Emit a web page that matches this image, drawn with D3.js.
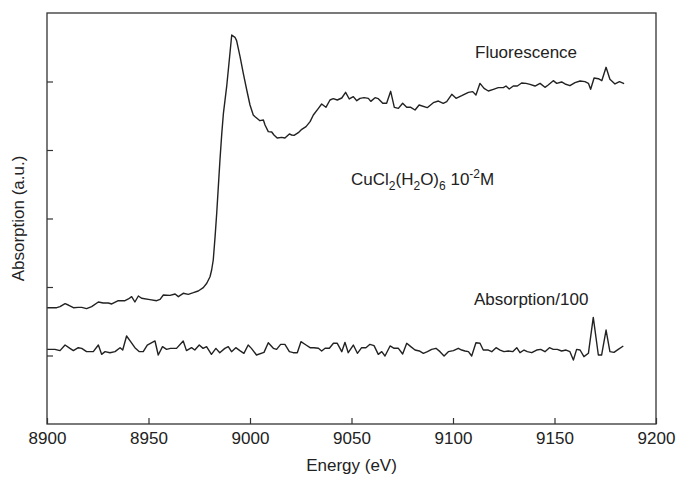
<!DOCTYPE html>
<html>
<head>
<meta charset="utf-8">
<script src="https://cdn.jsdelivr.net/npm/d3@7"></script>
<style>
  body { margin: 0; background: #fff; }
  text { font-family: "Liberation Sans", Arial, sans-serif; fill: #222; }
</style>
</head>
<body>
<div id="chart"></div>
<script>
// values (energy in eV, absorption in a.u.)

var fluorEnergy = [8900.1, 8904.8, 8906.4, 8908.9, 8910.5, 8913.0, 8915.4, 8917.1, 8919.5, 8922.0,
  8925.3, 8927.7, 8930.2, 8931.9, 8935.1, 8938.4, 8940.1, 8941.7, 8943.3, 8945.0,
  8946.6, 8950.7, 8954.0, 8955.7, 8957.3, 8960.6, 8963.1, 8964.7, 8967.1, 8969.6,
  8972.1, 8974.5, 8977.0, 8978.7, 8980.3, 8981.1, 8981.9, 8982.8, 8983.6, 8984.4,
  8985.2, 8986.1, 8986.9, 8988.5, 8989.8, 8991.0, 8992.6, 8993.4, 8995.1, 8996.7,
  8998.4, 9000.0, 9001.6, 9002.5, 9004.9, 9006.6, 9007.4, 9009.0, 9010.7, 9011.8,
  9013.4, 9015.6, 9017.2, 9019.4, 9020.5, 9021.7, 9023.8, 9025.5, 9027.6, 9029.6,
  9031.2, 9033.7, 9035.3, 9037.4, 9039.4, 9041.0, 9043.0, 9045.2, 9047.1, 9048.9,
  9050.9, 9052.6, 9054.2, 9056.2, 9058.3, 9059.5, 9061.6, 9063.2, 9065.4, 9067.3,
  9069.3, 9071.1, 9073.1, 9075.2, 9077.2, 9079.2, 9081.3, 9083.3, 9087.3, 9090.3,
  9092.8, 9095.2, 9096.9, 9099.4, 9101.5, 9104.3, 9107.6, 9109.7, 9111.3, 9113.3,
  9115.3, 9117.4, 9119.9, 9122.3, 9124.8, 9126.1, 9127.7, 9129.7, 9131.7, 9133.8,
  9136.0, 9137.9, 9140.4, 9142.9, 9145.3, 9146.9, 9149.4, 9151.1, 9153.5, 9155.2,
  9157.6, 9160.1, 9162.6, 9165.0, 9166.7, 9167.8, 9169.5, 9171.6, 9173.3, 9175.4,
  9177.3, 9179.8, 9182.0, 9184.3];

var fluorValue = [1.698, 1.698, 1.713, 1.757, 1.737, 1.698, 1.703, 1.703, 1.684, 1.713,
  1.781, 1.766, 1.766, 1.752, 1.800, 1.800, 1.825, 1.859, 1.781, 1.869,
  1.835, 1.815, 1.800, 1.820, 1.883, 1.878, 1.898, 1.859, 1.908, 1.893,
  1.917, 1.942, 1.990, 2.054, 2.150, 2.248, 2.394, 2.735, 3.076, 3.465,
  3.854, 4.243, 4.535, 4.924, 5.314, 5.679, 5.645, 5.596, 5.362, 5.119,
  4.876, 4.657, 4.511, 4.486, 4.428, 4.438, 4.365, 4.268, 4.263, 4.219,
  4.175, 4.185, 4.175, 4.234, 4.219, 4.214, 4.253, 4.302, 4.341, 4.414,
  4.511, 4.608, 4.672, 4.623, 4.730, 4.749, 4.730, 4.759, 4.842, 4.745,
  4.779, 4.720, 4.754, 4.764, 4.754, 4.710, 4.764, 4.749, 4.682, 4.682,
  4.857, 4.623, 4.608, 4.682, 4.623, 4.623, 4.584, 4.657, 4.618, 4.691,
  4.715, 4.682, 4.706, 4.813, 4.754, 4.793, 4.842, 4.852, 4.803, 4.973,
  4.900, 4.861, 4.886, 4.910, 4.910, 4.934, 4.891, 4.934, 4.934, 4.978,
  4.973, 4.959, 4.934, 4.973, 4.915, 4.949, 5.012, 4.973, 4.993, 4.964,
  4.939, 4.983, 5.007, 4.998, 4.973, 4.886, 5.051, 5.041, 5.012, 5.207,
  5.032, 4.964, 4.998, 4.969];

var absEnergy = [8900.1, 8903.9, 8906.4, 8908.9, 8911.3, 8913.0, 8915.4, 8917.1, 8919.5, 8922.8,
  8925.3, 8926.9, 8928.6, 8931.0, 8933.5, 8936.0, 8937.3, 8939.2, 8941.2, 8943.3,
  8945.5, 8947.4, 8949.4, 8953.2, 8954.8, 8956.9, 8958.9, 8960.8, 8963.8, 8967.1,
  8968.7, 8971.2, 8972.8, 8975.0, 8976.9, 8978.6, 8981.0, 8983.2, 8985.1, 8987.6,
  8989.3, 8990.9, 8993.0, 8995.0, 8997.0, 8999.1, 9000.7, 9003.2, 9006.9, 9009.0,
  9011.5, 9013.1, 9015.1, 9017.2, 9019.4, 9021.3, 9023.3, 9025.1, 9027.6, 9029.6,
  9031.5, 9033.7, 9035.3, 9037.0, 9039.1, 9041.1, 9043.0, 9045.2, 9046.8, 9048.4,
  9050.9, 9052.9, 9055.0, 9057.1, 9059.1, 9061.1, 9063.2, 9064.9, 9066.5, 9069.0,
  9071.0, 9073.1, 9075.2, 9077.2, 9079.2, 9081.3, 9083.4, 9085.4, 9087.4, 9089.5,
  9091.6, 9093.6, 9095.6, 9097.7, 9100.2, 9102.6, 9104.3, 9105.9, 9107.6, 9109.2,
  9111.3, 9113.3, 9114.9, 9117.4, 9119.1, 9121.2, 9123.2, 9125.1, 9127.3, 9129.4,
  9131.4, 9133.0, 9135.0, 9136.6, 9138.8, 9141.2, 9143.2, 9145.3, 9147.5, 9149.4,
  9151.4, 9153.5, 9155.7, 9157.6, 9159.3, 9160.9, 9162.6, 9164.5, 9166.7, 9169.1,
  9171.6, 9173.2, 9175.4, 9177.3, 9179.3, 9181.4, 9183.9];

var absValue = [1.090, 1.090, 1.071, 1.153, 1.104, 1.071, 1.114, 1.104, 1.056, 1.056,
  1.153, 1.017, 1.056, 1.041, 1.056, 1.114, 1.080, 1.285, 1.202, 1.114,
  1.056, 1.056, 1.153, 1.212, 1.007, 1.129, 1.090, 1.104, 1.104, 1.212,
  1.071, 1.114, 1.080, 1.153, 1.104, 1.129, 1.017, 1.104, 1.041, 1.104,
  1.129, 1.056, 1.114, 1.071, 1.032, 1.153, 1.104, 1.007, 1.046, 1.187,
  1.105, 1.090, 1.163, 1.163, 1.056, 1.041, 1.041, 1.202, 1.153, 1.114,
  1.114, 1.105, 1.066, 1.105, 1.105, 1.178, 1.178, 1.056, 1.192, 1.041,
  1.153, 1.032, 1.114, 1.114, 1.163, 1.144, 1.017, 1.056, 0.993, 1.139,
  1.105, 1.105, 1.022, 1.178, 1.129, 1.080, 1.066, 1.032, 1.056, 1.090,
  1.105, 1.056, 0.993, 1.056, 1.071, 1.105, 1.080, 1.066, 1.056, 0.993,
  1.187, 1.178, 1.080, 1.080, 1.056, 1.114, 1.080, 1.056, 1.066, 1.056,
  1.114, 1.041, 1.080, 1.056, 1.041, 1.080, 1.090, 1.056, 1.114, 1.090,
  1.090, 1.066, 1.080, 1.056, 0.934, 1.090, 1.080, 0.983, 1.032, 1.557,
  1.007, 1.007, 1.372, 1.056, 1.046, 1.090, 1.139];

var xTicks = [8900, 8950, 9000, 9050, 9100, 9150, 9200];
var yTicks = [1, 2, 3, 4, 5];

var totalWidth = 680, totalHeight = 478;
var margin = {left: 47, right: 24, top: 13, bottom: 54};
var width = totalWidth - margin.left - margin.right;
var height = totalHeight - margin.top - margin.bottom;
var fontSize = 17;

var svg = d3.select("#chart").append("svg")
    .attr("width", totalWidth)
    .attr("height", totalHeight);

var g = svg.append("g")
    .attr("transform", "translate(" + margin.left + "," + margin.top + ")");

var x = d3.scaleLinear().domain([8900, 9200]).range([0, width]);
var y = d3.scaleLinear().domain([0, 6]).range([height, 0]);

// frame
g.append("rect")
    .attr("width", width)
    .attr("height", height)
    .attr("fill", "none")
    .attr("stroke", "#333")
    .attr("stroke-width", 1.3);

// ticks point inward, no y labels
var xAxis = g.append("g")
    .attr("transform", "translate(0," + height + ")")
    .call(d3.axisBottom(x).tickValues(xTicks).tickSize(-6).tickPadding(8).tickFormat(d3.format("d")));

var yAxis = g.append("g")
    .call(d3.axisLeft(y).tickValues(yTicks).tickSize(-6).tickFormat(""));

[xAxis, yAxis].forEach(function(a) {
  a.select(".domain").remove();
  a.selectAll("line").attr("stroke", "#333").attr("stroke-width", 1.2);
});
xAxis.selectAll("text")
    .attr("font-size", fontSize)
    .attr("font-family", "'Liberation Sans', Arial, sans-serif")
    .attr("fill", "#222");

var line = d3.line()
    .x(function(d) { return x(d[0]); })
    .y(function(d) { return y(d[1]); });

var series = [d3.zip(fluorEnergy, fluorValue), d3.zip(absEnergy, absValue)];

g.selectAll(".trace").data(series).enter().append("path")
    .attr("class", "trace")
    .attr("d", line)
    .attr("fill", "none")
    .attr("stroke", "#222")
    .attr("stroke-width", 1.4)
    .attr("stroke-linejoin", "round");

// labels
svg.append("text")
    .attr("x", margin.left + width / 2)
    .attr("y", 471)
    .attr("text-anchor", "middle")
    .attr("font-size", fontSize)
    .text("Energy (eV)");

svg.append("text")
    .attr("transform", "translate(24," + (margin.top + height * 0.5) + ") rotate(-90)")
    .attr("text-anchor", "middle")
    .attr("font-size", fontSize)
    .text("Absorption (a.u.)");

svg.append("text")
    .attr("x", 475)
    .attr("y", 58)
    .attr("font-size", fontSize)
    .text("Fluorescence");

svg.append("text")
    .attr("x", 474)
    .attr("y", 305)
    .attr("font-size", fontSize)
    .text("Absorption/100");

var formula = svg.append("text")
    .attr("x", 351)
    .attr("y", 185)
    .attr("font-size", fontSize);
formula.append("tspan").text("CuCl");
formula.append("tspan").attr("dy", 5).attr("font-size", 12).text("2");
formula.append("tspan").attr("dy", -5).text("(H");
formula.append("tspan").attr("dy", 5).attr("font-size", 12).text("2");
formula.append("tspan").attr("dy", -5).text("O)");
formula.append("tspan").attr("dy", 5).attr("font-size", 12).text("6");
formula.append("tspan").attr("dy", -5).text(" 10");
formula.append("tspan").attr("dy", -7).attr("font-size", 12).text("-2");
formula.append("tspan").attr("dy", 7).text("M");
</script>
</body>
</html>
